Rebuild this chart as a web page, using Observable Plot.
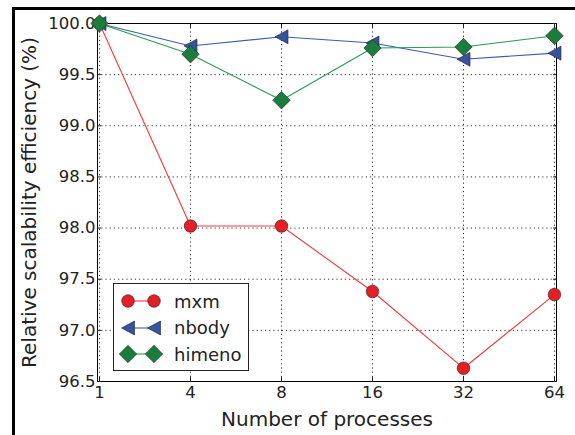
<!DOCTYPE html>
<html><head><meta charset="utf-8">
<script src="https://cdn.jsdelivr.net/npm/d3@7"></script>
<script src="https://cdn.jsdelivr.net/npm/@observablehq/plot@0.6"></script>
<style>
body{margin:0;background:#fff;font-family:"DejaVu Sans",sans-serif;}
#wrap{position:relative;width:575px;height:435px;overflow:hidden;background:#fff;}
#outer{position:absolute;left:12px;top:7px;width:600px;height:500px;border-top:3px solid #000;border-left:3px solid #000;pointer-events:none;}
#chart{position:absolute;left:0;top:0;}
#legend{position:absolute;left:113px;top:283px;width:134px;height:86px;border:1px solid #222;background:#fff;font-size:18px;color:#222;}
.row{position:absolute;left:0;height:26px;display:flex;align-items:center;}
.row svg{display:block;}
.row span{margin-left:8px;}
</style></head>
<body><div id="wrap"><div id="outer"></div><div id="chart"></div><div id="legend"></div></div>
<script>
const processes = ["1","4","8","16","32","64"];
const mxm    = [100.0, 98.02, 98.02, 97.38, 96.63, 97.35];
const nbody  = [100.0, 99.78, 99.87, 99.81, 99.65, 99.71];
const himeno = [100.0, 99.70, 99.25, 99.76, 99.77, 99.88];
const seriesNames = ["mxm", "nbody", "himeno"];
const yTicks = [96.5, 97.0, 97.5, 98.0, 98.5, 99.0, 99.5, 100.0];

const lineColor = {mxm: "#f23a3a", nbody: "#3d5cae", himeno: "#2a9a52"};
const fillColor = {mxm: "#e41f26", nbody: "#3552a3", himeno: "#1a7d3c"};

const circleSym = {draw(ctx){ ctx.moveTo(6.3,0); ctx.arc(0,0,6.3,0,2*Math.PI); }};
const triLeftSym = {draw(ctx){ ctx.moveTo(-6.5,0); ctx.lineTo(6.5,-7); ctx.lineTo(6.5,7); ctx.closePath(); }};
const diamondSym = {draw(ctx){ ctx.moveTo(0,-8.7); ctx.lineTo(8.7,0); ctx.lineTo(0,8.7); ctx.lineTo(-8.7,0); ctx.closePath(); }};
const symbols = {mxm: circleSym, nbody: triLeftSym, himeno: diamondSym};

const seriesValues = {mxm, nbody, himeno};
const data = seriesNames.flatMap(s => processes.map((p, i) => ({series: s, p, v: seriesValues[s][i]})));

const marks = [
  Plot.gridX(processes, {stroke: "#000", strokeOpacity: 0.8, strokeDasharray: "1.2,3"}),
  Plot.gridY(yTicks, {stroke: "#000", strokeOpacity: 0.8, strokeDasharray: "1.2,3"}),
  Plot.frame({stroke: "#000", strokeWidth: 1}),
  Plot.axisX(processes, {anchor: "bottom", tickSize: -4, tickPadding: 9, fontSize: 16.5, label: "Number of processes", labelAnchor: "center", labelOffset: 44, labelArrow: "none", color: "#222"}),
  Plot.axisX(processes, {anchor: "top", tickSize: -4, tickFormat: () => "", label: null}),
  Plot.axisY(yTicks, {anchor: "left", tickSize: -4, tickPadding: 6, fontSize: 16.5, tickFormat: d3.format(".1f"), label: "Relative scalability efficiency (%)", labelAnchor: "center", labelOffset: 76, labelArrow: "none", color: "#222"}),
  Plot.axisY(yTicks, {anchor: "right", tickSize: -4, tickFormat: () => "", label: null})
];
for (const s of seriesNames) {
  const d = data.filter(r => r.series === s);
  marks.push(Plot.line(d, {x: "p", y: "v", stroke: lineColor[s], strokeWidth: 1.1}));
  marks.push(Plot.dot(d, {x: "p", y: "v", symbol: symbols[s], r: 6, fill: fillColor[s], stroke: "#222", strokeWidth: 0.6}));
}

const chart = Plot.plot({
  width: 575, height: 435,
  marginLeft: 97, marginRight: 19, marginTop: 23, marginBottom: 54,
  style: {fontFamily: "DejaVu Sans, sans-serif", fontSize: "16px", color: "#222", background: "transparent", overflow: "visible"},
  x: {type: "point", domain: processes, padding: 0},
  y: {domain: [96.5, 100]},
  marks
});
chart.querySelectorAll("g[aria-label$='axis label'] text, g[aria-label$='axis label']").forEach(t => t.setAttribute("font-size", "20"));
chart.querySelectorAll("text, tspan").forEach(t => {
  if (t.childNodes.length === 1 && t.firstChild.nodeType === 3 && /[↑→↓←]/.test(t.textContent)) t.textContent = t.textContent.replace(/\s*[↑→↓←]\s*/g, "");
});
document.getElementById("chart").appendChild(chart);

// legend
const legend = document.getElementById("legend");
const shapes = {
  mxm: '<circle cx="0" cy="0" r="6.3"/>',
  nbody: '<path d="M-6.5,0L6.5,-7L6.5,7Z"/>',
  himeno: '<path d="M0,-8.7L8.7,0L0,8.7L-8.7,0Z"/>'
};
seriesNames.forEach((s, i) => {
  const row = document.createElement("div");
  row.className = "row";
  row.style.top = (4 + i * 26.5) + "px";
  row.innerHTML = `<svg width="52" height="26" style="margin-left:0">
    <line x1="14" x2="40" y1="13" y2="13" stroke="${lineColor[s]}" stroke-width="1.1"/>
    <g fill="${fillColor[s]}" stroke="#222" stroke-width="0.6"><g transform="translate(14,13)">${shapes[s]}</g><g transform="translate(40,13)">${shapes[s]}</g></g>
  </svg><span>${s}</span>`;
  legend.appendChild(row);
});
</script></body></html>
